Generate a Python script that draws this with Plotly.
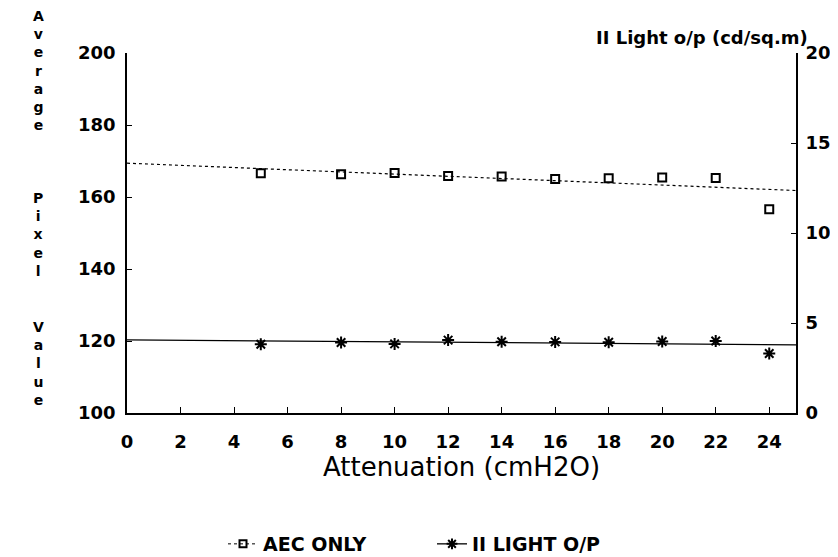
import plotly.graph_objects as go

# ---- data ----
attenuation = [5, 8, 10, 12, 14, 16, 18, 20, 22, 24]          # cmH2O
aec_only = [166.6, 166.3, 166.7, 165.8, 165.7, 165.0, 165.2, 165.4, 165.3, 156.6]  # avg pixel value
ii_light = [3.82, 3.92, 3.84, 4.05, 3.96, 3.95, 3.93, 3.97, 4.00, 3.31]          # cd/sq.m
fit_x = [0, 25]
aec_fit = [169.4, 161.8]
ii_fit = [4.06, 3.79]

x_ticks = [0, 2, 4, 6, 8, 10, 12, 14, 16, 18, 20, 22, 24]
left_ticks = [100, 120, 140, 160, 180, 200]
right_ticks = [0, 5, 10, 15, 20]

left_title_words = ["Average", "Pixel", "Value"]
right_title = "II Light o/p (cd/sq.m)"
x_title = "Attenuation (cmH2O)"
legend_names = ["AEC ONLY", "II LIGHT O/P"]

# ---- layout geometry ----
W, H = 838, 557
L, R, T, B = 119, 50, 45, 152
PW, PH = W - L - R, H - T - B


def px_x(p):
    return (p - L) / PW


def px_y(p):
    return (H - B - p) / PH


FONT = "DejaVu Sans"
tickfont = dict(family=FONT, size=18, color="black", weight="bold")

fig = go.Figure()

# fitted lines
fig.add_trace(go.Scatter(x=fit_x, y=aec_fit, mode="lines", yaxis="y",
                         line=dict(color="black", width=1.2, dash="dot"),
                         showlegend=False, hoverinfo="skip"))
fig.add_trace(go.Scatter(x=fit_x, y=ii_fit, mode="lines", yaxis="y2",
                         line=dict(color="black", width=1.3),
                         showlegend=False, hoverinfo="skip"))

# data points
fig.add_trace(go.Scatter(x=attenuation, y=aec_only, mode="markers", yaxis="y",
                         marker=dict(symbol="square-open", size=8, color="black",
                                     line=dict(width=2, color="black")),
                         name=legend_names[0], showlegend=False))
fig.add_trace(go.Scatter(x=attenuation, y=ii_light, mode="markers", yaxis="y2",
                         marker=dict(symbol="asterisk-open", size=10, color="black",
                                     line=dict(width=2, color="black")),
                         name=legend_names[1], showlegend=False))

# legend entries
fig.add_trace(go.Scatter(x=[None], y=[None], mode="lines+markers", yaxis="y",
                         name=legend_names[0],
                         line=dict(color="black", width=1, dash="dot"),
                         marker=dict(symbol="square-open", size=7, color="black",
                                     line=dict(width=2, color="black"))))
fig.add_trace(go.Scatter(x=[None], y=[None], mode="lines+markers", yaxis="y2",
                         name=legend_names[1],
                         line=dict(color="black", width=1.3),
                         marker=dict(symbol="asterisk-open", size=9, color="black",
                                     line=dict(width=2, color="black"))))

annotations = []
# stacked vertical left title: one annotation per word, one letter per line
word_centres = [62, 226, 355]
for word, yc in zip(left_title_words, word_centres):
    annotations.append(dict(text="<br>".join(word), xref="paper", yref="paper",
                            x=px_x(30), y=px_y(yc), xanchor="center", yanchor="middle",
                            align="center", showarrow=False,
                            font=dict(family=FONT, size=14, color="black", weight="bold")))
# right axis title
annotations.append(dict(text=right_title, xref="paper", yref="paper",
                        x=px_x(802), y=px_y(30), xanchor="right", yanchor="middle",
                        showarrow=False,
                        font=dict(family=FONT, size=18, color="black", weight="bold")))

fig.update_layout(
    width=W, height=H,
    margin=dict(l=L, r=R, t=T, b=B, autoexpand=False),
    paper_bgcolor="white", plot_bgcolor="white",
    showlegend=True,
    legend=dict(orientation="h", x=px_x(215), y=px_y(517), xanchor="left", yanchor="top",
                font=dict(family=FONT, size=19, color="black", weight="bold"),
                entrywidth=164, entrywidthmode="pixels", bgcolor="rgba(0,0,0,0)"),
    xaxis=dict(range=[0, 25], tickvals=x_ticks, ticktext=[str(v) for v in x_ticks],
               showgrid=False, zeroline=False, showline=True, linecolor="black", linewidth=1.6,
               ticks="inside", ticklen=6, tickwidth=1.2, tickcolor="black",
               tickfont=tickfont, ticklabelstandoff=12,
               title=dict(text=x_title, font=dict(family=FONT, size=26, color="black"),
                          standoff=5)),
    yaxis=dict(range=[100, 200], tickvals=left_ticks,
               showgrid=False, zeroline=False, showline=True, linecolor="black", linewidth=1.8,
               ticks="inside", ticklen=5, tickwidth=1.2, tickcolor="black",
               tickfont=tickfont, ticklabelstandoff=6),
    yaxis2=dict(range=[0, 20], tickvals=right_ticks, overlaying="y", side="right",
                showgrid=False, zeroline=False, showline=True, linecolor="black", linewidth=1.8,
                ticks="inside", ticklen=5, tickwidth=1.2, tickcolor="black",
                tickfont=tickfont, ticklabelstandoff=4),
    annotations=annotations,
)

fig.write_html("out.html")
